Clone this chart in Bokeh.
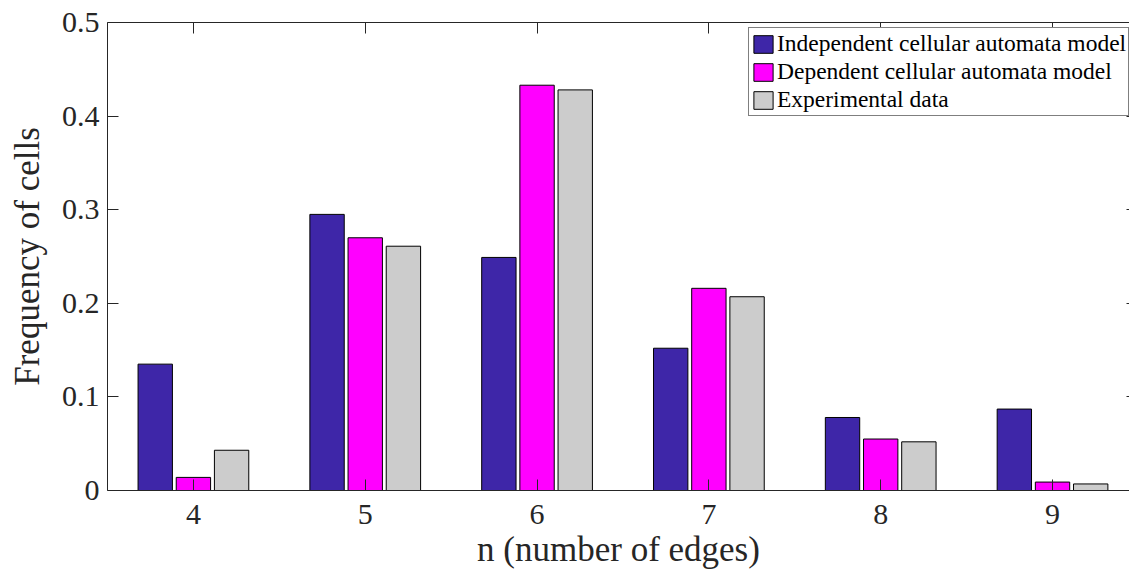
from bokeh.plotting import figure
from bokeh.models import ColumnDataSource, FixedTicker, LinearAxis, Legend, LegendItem
from bokeh.transform import dodge
from bokeh.embed import file_html
from bokeh.resources import INLINE

# Cell-edge distribution: share of cells with n edges
edges = [4, 5, 6, 7, 8, 9]
independent = [0.135, 0.295, 0.249, 0.152, 0.078, 0.087]
dependent = [0.014, 0.270, 0.433, 0.216, 0.055, 0.009]
experimental = [0.043, 0.261, 0.428, 0.207, 0.052, 0.007]

series_names = [
    "Independent cellular automata model",
    "Dependent cellular automata model",
    "Experimental data",
]
series_keys = ["independent", "dependent", "experimental"]
series_colors = ["#3E26A8", "#FF00FF", "#CCCCCC"]

y_ticks = [0, 0.1, 0.2, 0.3, 0.4, 0.5]
y_tick_labels = ["0", "0.1", "0.2", "0.3", "0.4", "0.5"]

FONT = "'Liberation Serif', 'Times New Roman', serif"
INK = "#262626"

source = ColumnDataSource(dict(
    edges=edges,
    independent=independent,
    dependent=dependent,
    experimental=experimental,
))

p = figure(
    width=1129, height=571,
    x_range=(3.5, 9.448), y_range=(0, 0.5),
    output_backend="svg", toolbar_location=None,
    min_border_left=107, min_border_right=0,
    min_border_top=22, min_border_bottom=81,
)
p.outline_line_color = None
p.xgrid.visible = False
p.ygrid.visible = False
p.background_fill_color = "white"
p.border_fill_color = "white"

# grouped bars
offsets = [-0.2222, 0.0, 0.2222]
renderers = []
for key, color, off in zip(series_keys, series_colors, offsets):
    r = p.vbar(
        x=dodge("edges", off, range=p.x_range), top=key, width=0.2,
        source=source, fill_color=color, line_color="black", line_width=1,
    )
    renderers.append(r)

# bottom axis
xa = p.xaxis[0]
xa.ticker = FixedTicker(ticks=edges)
xa.major_tick_in = 11
xa.major_tick_out = 0
xa.minor_tick_line_color = None
xa.axis_line_color = INK
xa.major_tick_line_color = INK
xa.major_label_text_font = FONT
xa.major_label_text_font_size = "30px"
xa.major_label_text_color = INK
xa.major_label_standoff = 14
xa.axis_label = "n (number of edges)"
xa.axis_label_text_font = FONT
xa.axis_label_text_font_size = "35px"
xa.axis_label_text_font_style = "normal"
xa.axis_label_text_color = INK
xa.axis_label_standoff = 3

# left axis
ya = p.yaxis[0]
ya.ticker = FixedTicker(ticks=y_ticks)
ya.major_label_overrides = {t: lab for t, lab in zip(y_ticks, y_tick_labels)}
ya.major_tick_in = 11
ya.major_tick_out = 0
ya.minor_tick_line_color = None
ya.axis_line_color = INK
ya.major_tick_line_color = INK
ya.major_label_text_font = FONT
ya.major_label_text_font_size = "30px"
ya.major_label_text_color = INK
ya.major_label_standoff = 8
ya.axis_label = "Frequency of cells"
ya.axis_label_text_font = FONT
ya.axis_label_text_font_size = "35px"
ya.axis_label_text_font_style = "normal"
ya.axis_label_text_color = INK
ya.axis_label_standoff = 12

# box edges: top axis with inward ticks, short inward ticks on the right
top_axis = LinearAxis(
    ticker=FixedTicker(ticks=edges),
    major_label_overrides={t: "" for t in edges},
    major_label_text_font_size="0px",
    major_label_standoff=0,
    major_tick_in=11, major_tick_out=0,
    minor_tick_line_color=None,
    axis_line_color=INK, major_tick_line_color=INK,
)
p.add_layout(top_axis, "above")

right_axis = LinearAxis(
    ticker=FixedTicker(ticks=y_ticks),
    major_label_overrides={t: "" for t in y_ticks},
    major_label_text_font_size="0px",
    major_label_standoff=0,
    major_tick_in=3, major_tick_out=0,
    minor_tick_line_color=None,
    axis_line_color=None, major_tick_line_color=INK,
)
p.add_layout(right_axis, "right")

legend = Legend(
    items=[LegendItem(label=n, renderers=[r]) for n, r in zip(series_names, renderers)],
    location=(641, 374),
    label_text_font=FONT,
    label_text_font_size="23.5px",
    label_text_color="black",
    glyph_width=24, glyph_height=22,
    label_standoff=2, label_height=20,
    spacing=1, padding=2, margin=0,
    border_line_color="black", border_line_width=1,
    background_fill_color="white", background_fill_alpha=1.0,
)
p.add_layout(legend)

open("out.html", "w").write(file_html(p, INLINE))
